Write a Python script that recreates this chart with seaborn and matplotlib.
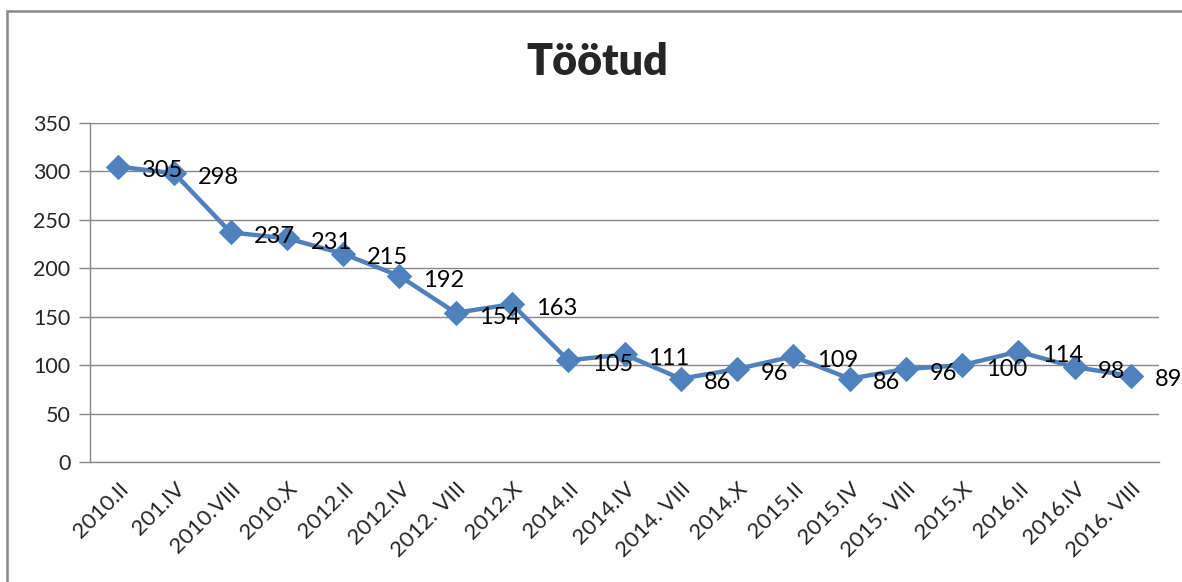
import numpy as np
import pandas as pd
import matplotlib
matplotlib.use("Agg")
import matplotlib.pyplot as plt
import seaborn as sns
from matplotlib.patches import Rectangle

categories = ["2010.II", "201.IV", "2010.VIII", "2010.X", "2012.II", "2012.IV",
              "2012. VIII", "2012.X", "2014.II", "2014.IV", "2014. VIII", "2014.X",
              "2015.II", "2015.IV", "2015. VIII", "2015.X", "2016.II", "2016.IV", "2016. VIII"]
values = [305, 298, 237, 231, 215, 192, 154, 163, 105, 111, 86, 96, 109, 86, 96, 100, 114, 98, 89]
yticks = [0, 50, 100, 150, 200, 250, 300, 350]

sns.set_theme(style="white")
plt.rcParams['font.family'] = ['Lato', 'DejaVu Sans']

fig = plt.figure(figsize=(11.82, 5.82), dpi=100)
ax = fig.add_axes([90/1182, 1-462/582, (1159-90)/1182, (462-123)/582])

df = pd.DataFrame({"idx": np.arange(len(categories)), "val": values})
color = "#4F81BD"
sns.lineplot(data=df, x="idx", y="val", ax=ax, color=color, linewidth=3.2,
             marker="D", markersize=12, markeredgecolor=color, markerfacecolor=color)

for i, v in enumerate(values):
    ax.annotate(str(v), (i, v), xytext=(17, -3), textcoords="offset points",
                ha="left", va="center", fontsize=17, color="black")

ax.set_xlim(-0.5, len(categories) - 0.5)
ax.set_ylim(0, 350)
ax.set_yticks(yticks)
ax.set_yticklabels([str(t) for t in yticks], fontsize=15.5)
ax.set_xticks(np.arange(len(categories)))
ax.set_xticklabels(categories, rotation=45, ha="right", rotation_mode="anchor", fontsize=16)
ax.set_xticks(np.arange(len(categories) + 1) - 0.5, minor=True)
ax.tick_params(axis="x", which="major", length=0, pad=12)
ax.tick_params(axis="x", which="minor", length=6, color="#888888", width=1, direction="out")
ax.tick_params(axis="y", length=8, color="#888888", width=1, direction="out", pad=6, left=True)
ax.grid(axis="y", color="#888888", linewidth=1)
ax.set_axisbelow(True)
ax.set_xlabel("")
ax.set_ylabel("")
for s in ["top", "right"]:
    ax.spines[s].set_visible(False)
for s in ["left", "bottom"]:
    ax.spines[s].set_color("#888888")
    ax.spines[s].set_linewidth(1)

fig.text(597/1182, 1-62/582, "Töötud", ha="center", va="center", fontsize=31, fontweight="heavy")

fig.patches.append(Rectangle((7/1182, -0.1), 1.2, 1 - 11/582 + 0.1, transform=fig.transFigure,
                             fill=False, edgecolor="#878787", linewidth=1.8))

fig.savefig("out.png", dpi=100)
